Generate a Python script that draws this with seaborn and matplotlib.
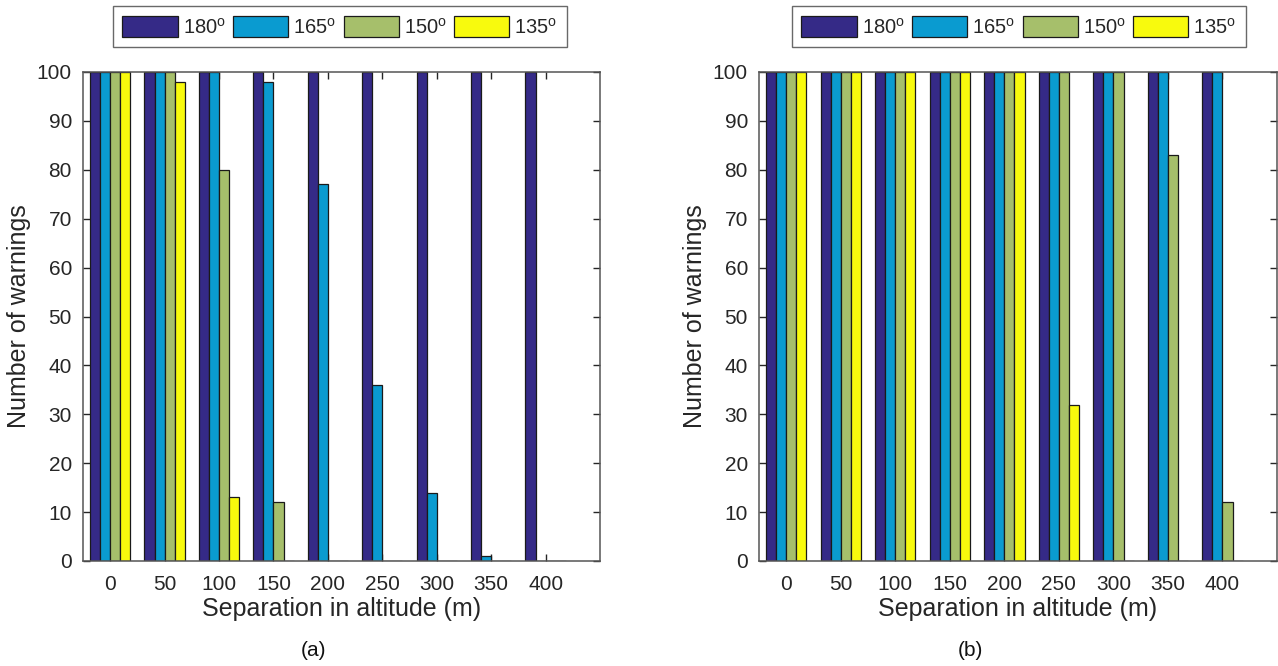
import pandas as pd
import matplotlib
matplotlib.use("Agg")
import matplotlib.pyplot as plt
import seaborn as sns

# data
separation = [0, 50, 100, 150, 200, 250, 300, 350, 400]
angles = ["180$^{\\mathrm{o}}$", "165$^{\\mathrm{o}}$", "150$^{\\mathrm{o}}$", "135$^{\\mathrm{o}}$"]

a_180 = [100, 100, 100, 100, 100, 100, 100, 100, 100]
a_165 = [100, 100, 100, 98, 77, 36, 14, 1, 0]
a_150 = [100, 100, 80, 12, 0, 0, 0, 0, 0]
a_135 = [100, 98, 13, 0, 0, 0, 0, 0, 0]

b_180 = [100, 100, 100, 100, 100, 100, 100, 100, 100]
b_165 = [100, 100, 100, 100, 100, 100, 100, 100, 100]
b_150 = [100, 100, 100, 100, 100, 100, 100, 83, 12]
b_135 = [100, 100, 100, 100, 100, 32, 0, 0, 0]

colors = ["#352a87", "#0a9bd0", "#a6bf6b", "#f8fa0d"]


def make_df(series):
    rows = []
    for ang, vals in zip(angles, series):
        for s, v in zip(separation, vals):
            rows.append({"sep": str(s), "angle": ang, "warnings": v})
    return pd.DataFrame(rows)


df_a = make_df([a_180, a_165, a_150, a_135])
df_b = make_df([b_180, b_165, b_150, b_135])

sns.set_style("white")
plt.rcParams["font.family"] = ["Liberation Sans", "DejaVu Sans"]
plt.rcParams["mathtext.fontset"] = "custom"
plt.rcParams["mathtext.rm"] = "Liberation Sans"

W, H = 1278, 666
fig = plt.figure(figsize=(W / 100, H / 100), dpi=100)


def px_axes(x0, x1, y0, y1):
    return fig.add_axes([x0 / W, 1 - y1 / H, (x1 - x0) / W, (y1 - y0) / H])


ax_a = px_axes(83, 600, 72, 561)
ax_b = px_axes(759, 1277, 72, 561)

gray = "#262626"
for ax, df, lx, tag, tx in [(ax_a, df_a, 340, "(a)", 313), (ax_b, df_b, 1019, "(b)", 970)]:
    sns.barplot(data=df, x="sep", y="warnings", hue="angle",
                order=[str(s) for s in separation], hue_order=angles,
                palette=colors, width=0.74, gap=0, edgecolor="#1a1a1a",
                linewidth=0.9, saturation=1, errorbar=None, ax=ax)
    ax.set_xlim(-0.5, 9.0)
    ax.set_ylim(0, 100)
    ax.set_yticks(range(0, 101, 10))
    ax.set_xlabel("Separation in altitude (m)", fontsize=18, color=gray, labelpad=2)
    ax.set_ylabel("Number of warnings", fontsize=18, color=gray, labelpad=4)
    ax.tick_params(direction="in", length=5, width=1, colors=gray, labelsize=15,
                   top=True, right=True, bottom=True, left=True, pad=8)
    ax.tick_params(axis="x", pad=10)
    for sp in ax.spines.values():
        sp.set_visible(True)
        sp.set_color("#555555")
        sp.set_linewidth(1.1)
    handles, labels = ax.get_legend_handles_labels()
    ax.get_legend().remove()
    fig.legend(handles, labels, loc="center", bbox_to_anchor=(lx / W, 1 - 26.5 / H),
               ncol=4, fontsize=14.5, frameon=True, fancybox=False,
               edgecolor="#444444", handlelength=2.75, handleheight=1.3,
               handletextpad=0.25, columnspacing=0.35, borderpad=0.45,
               borderaxespad=0)
    fig.text(tx / W, 1 - 650 / H, tag, ha="center", va="center", fontsize=15, color="#111111")

fig.savefig("out.png", dpi=100)
